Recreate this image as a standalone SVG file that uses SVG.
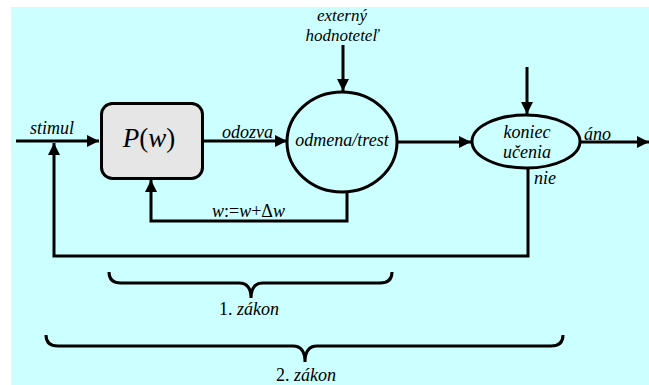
<svg xmlns="http://www.w3.org/2000/svg" width="649" height="385" viewBox="0 0 649 385">
<defs>
<marker id="ah" markerWidth="13" markerHeight="12" refX="12" refY="6" orient="auto" markerUnits="userSpaceOnUse">
<path d="M0,0 L12,6 L0,12 Z" fill="#000"/>
</marker>
<style>
.t{font-family:"Liberation Serif","Times New Roman","DejaVu Serif",serif;font-size:18px;fill:#000}
.i{font-style:italic}
.ln{fill:none;stroke:#000;stroke-width:3}
.node{stroke:#000;stroke-width:3}
</style>
</defs>
<rect x="11" y="7" width="638" height="378" fill="#ccffff"/>
<g id="connectors">
<path class="ln" d="M16,141 L99,141" marker-end="url(#ah)"/>
<path class="ln" d="M528,168 L528,256 L54,256 L54,143" marker-end="url(#ah)"/>
<path class="ln" d="M203,141 L287,141" marker-end="url(#ah)"/>
<path class="ln" d="M343,45 L343,91" marker-end="url(#ah)"/>
<path class="ln" d="M397,142 L471,142" marker-end="url(#ah)"/>
<path class="ln" d="M527,67 L527,114" marker-end="url(#ah)"/>
<path class="ln" d="M580,142 L649,142" marker-end="url(#ah)"/>
<path class="ln" d="M347,192 L347,221 L151,221 L151,180" marker-end="url(#ah)"/>
</g>
<g id="box">
<rect class="node" x="101.5" y="103.5" width="101" height="75" rx="11" fill="#e6e6e6"/>
<text class="t" x="149" y="147" text-anchor="middle" style="font-size:27px"><tspan class="i">P</tspan>(<tspan class="i">w</tspan>)</text>
</g>
<g id="odmena">
<ellipse class="node" cx="342" cy="142" rx="55" ry="50" fill="none"/>
<text class="t i" x="342" y="146" text-anchor="middle">odmena/trest</text>
</g>
<g id="koniec">
<ellipse class="node" cx="526" cy="141.5" rx="54" ry="26.5" fill="none"/>
<text class="t i" x="527" y="138" text-anchor="middle">koniec</text>
<text class="t i" x="527" y="158" text-anchor="middle">učenia</text>
</g>
<g id="hodnotitel">
<text class="t i" x="342" y="21" text-anchor="middle" style="font-size:17px">externý</text>
<text class="t i" x="342" y="41" text-anchor="middle" style="font-size:17px">hodnoteteľ</text>
</g>
<g id="labels">
<text class="t i" x="30" y="134">stimul</text>
<text class="t i" x="222" y="138">odozva</text>
<text class="t i" x="584" y="140">áno</text>
<text class="t i" x="534" y="184">nie</text>
<text class="t" x="212" y="217"><tspan class="i">w</tspan>:=<tspan class="i">w</tspan>+Δ<tspan class="i">w</tspan></text>
</g>
<g id="zakon1">
<path class="ln" d="M109,272 Q109,283 121,283 L239,283 Q251,283 251,298 Q251,283 263,283 L380,283 Q392,283 392,272"/>
<text class="t" x="249" y="315" text-anchor="middle">1. <tspan class="i">zákon</tspan></text>
</g>
<g id="zakon2">
<path class="ln" d="M46,335 Q46,346 58,346 L293,346 Q305,346 305,362 Q305,346 317,346 L551,346 Q563,346 563,335"/>
<text class="t" x="306" y="381" text-anchor="middle">2. <tspan class="i">zákon</tspan></text>
</g>
</svg>
